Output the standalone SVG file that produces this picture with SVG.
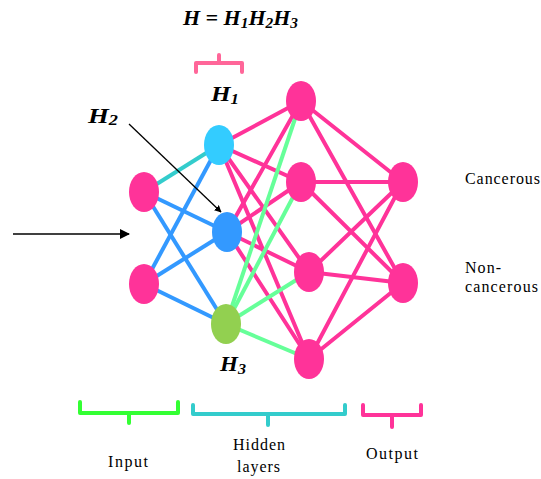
<svg xmlns="http://www.w3.org/2000/svg" width="541" height="479" viewBox="0 0 541 479">
<style>
.pk{stroke:#FF3399;stroke-width:4;fill:none;stroke-linecap:round}
.bl{stroke:#3399FF;stroke-width:4;fill:none}
.gr{stroke:#66FF99;stroke-width:4;fill:none}
.tl{stroke:#33CCCC;stroke-width:4;fill:none}
.ar{stroke:#000;stroke-width:1.3;fill:none}
.hl{font-family:"Liberation Serif",serif;font-weight:bold;font-style:italic;fill:#000}
.lb{font-family:"Liberation Serif",serif;font-size:16px;fill:#000}
.br{fill:none;stroke-width:4;stroke-linecap:round;stroke-linejoin:round}
</style>
<defs>
<marker id="ah" viewBox="0 0 10 10" refX="9" refY="5" markerWidth="7" markerHeight="7" markerUnits="userSpaceOnUse" orient="auto">
<path d="M0,0 L10,5 L0,10 z" fill="#000"/>
</marker>
<marker id="ah2" viewBox="0 0 10 10" refX="9" refY="5" markerWidth="10" markerHeight="10" markerUnits="userSpaceOnUse" orient="auto">
<path d="M0,0 L10,5 L0,10 z" fill="#000"/>
</marker>
</defs>
<rect width="541" height="479" fill="#fff"/>
<g id="connectors">
<line class="tl" x1="144" y1="192" x2="219" y2="145"/>
<line class="bl" x1="144" y1="192" x2="227" y2="232"/>
<line class="bl" x1="144" y1="192" x2="226" y2="324"/>
<line class="bl" x1="144" y1="284" x2="219" y2="145"/>
<line class="bl" x1="144" y1="284" x2="227" y2="232"/>
<line class="bl" x1="144" y1="284" x2="226" y2="324"/>
<line class="pk" x1="219" y1="145" x2="301" y2="101"/>
<line class="pk" x1="219" y1="145" x2="301" y2="182"/>
<line class="pk" x1="219" y1="145" x2="309" y2="272"/>
<line class="pk" x1="219" y1="145" x2="309" y2="359"/>
<line class="pk" x1="227" y1="232" x2="301" y2="101"/>
<line class="pk" x1="227" y1="232" x2="301" y2="182"/>
<line class="pk" x1="227" y1="232" x2="309" y2="272"/>
<line class="pk" x1="227" y1="232" x2="309" y2="359"/>
<line class="gr" x1="226" y1="324" x2="301" y2="101"/>
<line class="gr" x1="226" y1="324" x2="301" y2="182"/>
<line class="gr" x1="226" y1="324" x2="309" y2="272"/>
<line class="gr" x1="226" y1="324" x2="309" y2="359"/>
<line class="pk" x1="301" y1="101" x2="403" y2="182"/>
<line class="pk" x1="301" y1="101" x2="403" y2="283"/>
<line class="pk" x1="301" y1="182" x2="403" y2="182"/>
<line class="pk" x1="301" y1="182" x2="403" y2="283"/>
<line class="pk" x1="309" y1="272" x2="403" y2="182"/>
<line class="pk" x1="309" y1="272" x2="403" y2="283"/>
<line class="pk" x1="309" y1="359" x2="403" y2="182"/>
<line class="pk" x1="309" y1="359" x2="403" y2="283"/>
<line class="ar" x1="13" y1="234" x2="129" y2="234" marker-end="url(#ah2)"/>
<line class="ar" x1="129" y1="124" x2="221" y2="212" marker-end="url(#ah)"/>
</g>
<g id="in1"><ellipse cx="144" cy="192" rx="15" ry="20" fill="#FF3399"/></g>
<g id="in2"><ellipse cx="144" cy="284" rx="15" ry="20" fill="#FF3399"/></g>
<g id="h1"><ellipse cx="219" cy="145" rx="15" ry="20" fill="#33CCFF"/></g>
<g id="h2"><ellipse cx="227" cy="232" rx="15" ry="20" fill="#3399FF"/></g>
<g id="h3"><ellipse cx="226" cy="324" rx="15" ry="20" fill="#92D050"/></g>
<g id="k1"><ellipse cx="301" cy="101" rx="15" ry="20" fill="#FF3399"/></g>
<g id="k2"><ellipse cx="301" cy="182" rx="15" ry="20" fill="#FF3399"/></g>
<g id="k3"><ellipse cx="309" cy="272" rx="15" ry="20" fill="#FF3399"/></g>
<g id="k4"><ellipse cx="309" cy="359" rx="15" ry="20" fill="#FF3399"/></g>
<g id="o1"><ellipse cx="403" cy="182" rx="15" ry="20" fill="#FF3399"/></g>
<g id="o2"><ellipse cx="403" cy="283" rx="15" ry="20" fill="#FF3399"/></g>
<g id="formula">
<text class="hl" x="183" y="25" font-size="20" textLength="115" lengthAdjust="spacingAndGlyphs">H = H<tspan font-size="14" dy="3">1</tspan><tspan dy="-3">H</tspan><tspan font-size="14" dy="3">2</tspan><tspan dy="-3">H</tspan><tspan font-size="14" dy="3">3</tspan></text>
<path class="br" stroke="#FF6699" stroke-width="3" d="M196,72 V63 H242 V72 M219,63 V55"/>
</g>
<g id="labels">
<text class="hl" x="211" y="101" font-size="21" textLength="28" lengthAdjust="spacingAndGlyphs">H<tspan font-size="14" dy="3">1</tspan></text>
<text class="hl" x="88" y="123" font-size="22" textLength="30" lengthAdjust="spacingAndGlyphs">H<tspan font-size="15" dy="2">2</tspan></text>
<text class="hl" x="220" y="371" font-size="20" textLength="26" lengthAdjust="spacingAndGlyphs">H<tspan font-size="14" dy="3">3</tspan></text>
<text class="lb" x="465" y="184" textLength="75" lengthAdjust="spacing">Cancerous</text>
<text class="lb" x="465" y="273" textLength="36" lengthAdjust="spacing">Non-</text>
<text class="lb" x="465" y="292" textLength="73" lengthAdjust="spacing">cancerous</text>
<text class="lb" x="108" y="467" textLength="40" lengthAdjust="spacing">Input</text>
<text class="lb" x="233" y="450" textLength="52" lengthAdjust="spacing">Hidden</text>
<text class="lb" x="237" y="472" textLength="43" lengthAdjust="spacing">layers</text>
<text class="lb" x="366" y="459" textLength="52" lengthAdjust="spacing">Output</text>
</g>
<g id="brackets">
<path class="br" stroke="#33FF33" d="M80,402 V413 H178 V402 M129,413 V423"/>
<path class="br" stroke="#33CCCC" d="M193,405 V414 H345 V405 M268,414 V425"/>
<path class="br" stroke="#FF3399" d="M363,405 V415 H421 V405 M392,415 V427"/>
</g>
</svg>
